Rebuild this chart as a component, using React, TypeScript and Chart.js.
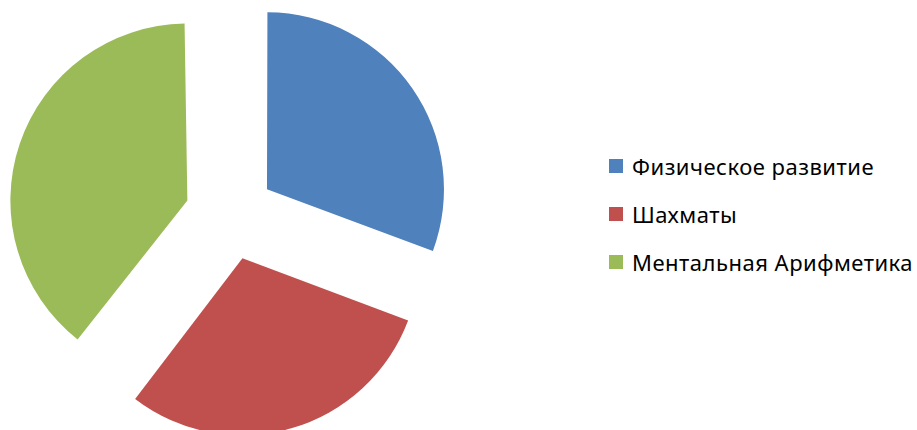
import React, { useEffect, useRef } from "react";
import { Chart, registerables } from "chart.js";

Chart.register(...registerables);

const categories = ["Физическое развитие", "Шахматы", "Ментальная Арифметика"];
const values = [31, 30, 40];
const colors = ["#4F81BD", "#C0504D", "#9BBB59"];

// Chart.js translates an arc by offset/4 and also grows its radius a little;
// this plugin undoes the radius growth so every slice keeps the same radius.
const keepRadius = {
  id: "keepRadius",
  afterDatasetsUpdate(chart: any) {
    chart.getSortedVisibleDatasetMetas().forEach((meta: any) => {
      meta.data.forEach((arc: any) => {
        const off = (arc.options.offset || 0) / 4;
        const fix = 1 - Math.sin(Math.min(Math.PI, arc.circumference || 0));
        arc.outerRadius = arc.outerRadius - off * fix;
      });
    });
  },
};

export default function App() {
  const ref = useRef<HTMLCanvasElement>(null);

  useEffect(() => {
    document.body.style.margin = "0";
    const chart = new Chart(ref.current!, {
      type: "pie",
      data: {
        labels: categories,
        datasets: [
          {
            data: values,
            backgroundColor: colors,
            borderWidth: 0,
            offset: 180,
            radius: 177,
            clip: false,
          } as any,
        ],
      },
      options: {
        responsive: false,
        animation: false,
        layout: { padding: 0 },
        plugins: {
          legend: { display: false },
          tooltip: { enabled: false },
        },
      },
      plugins: [keepRadius],
    });
    return () => chart.destroy();
  }, []);

  const rowCenters = [166, 214, 262];

  return (
    <div style={{ position: "absolute", left: 0, top: 0, width: 917, height: 430, background: "#fff", overflow: "hidden" }}>
      <canvas ref={ref} width={460} height={430} style={{ position: "absolute", left: 0, top: 0, width: 460, height: 430 }} />
      {categories.map((c, i) => (
        <div
          key={c}
          style={{
            position: "absolute",
            left: 609,
            top: rowCenters[i] - 15,
            height: 30,
            display: "flex",
            alignItems: "center",
            whiteSpace: "nowrap",
            fontFamily: "'Noto Sans', sans-serif",
            fontSize: 22,
            letterSpacing: 0.5,
            color: "#000",
          }}
        >
          <span style={{ display: "inline-block", width: 14, height: 14, background: colors[i], marginRight: 9, flex: "none" }} />
          <span>{c}</span>
        </div>
      ))}
    </div>
  );
}
